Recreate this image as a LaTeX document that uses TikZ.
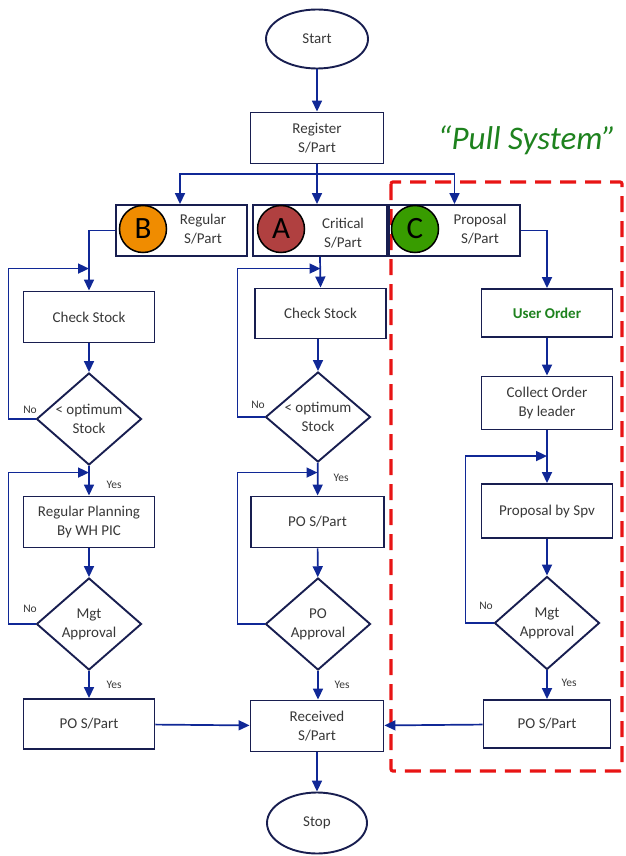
\documentclass[tikz,border=0pt]{standalone}
\usepackage{fontspec}
\setmainfont{Carlito}
\usetikzlibrary{arrows.meta,shapes.geometric}

\definecolor{flowblue}{RGB}{16,40,150}
\definecolor{boxnavy}{RGB}{24,30,80}
\definecolor{pullgreen}{RGB}{30,130,30}
\definecolor{pullred}{RGB}{232,20,20}
\definecolor{circB}{RGB}{240,140,0}
\definecolor{circA}{RGB}{176,64,64}
\definecolor{circC}{RGB}{56,156,0}

\begin{document}
\begin{tikzpicture}[
  x=1pt, y=-1pt,
  every node/.style={font=\fontsize{15}{19}\selectfont, text=black!78},
  box/.style={draw=boxnavy, line width=1.9pt, rectangle, minimum width=131pt, minimum height=51pt, inner sep=0pt, align=center},
  decide/.style={draw=boxnavy, line width=1.9pt, diamond, minimum width=105pt, minimum height=92pt, inner sep=0pt},
  term/.style={draw=boxnavy, line width=1.9pt, ellipse, minimum width=102pt, minimum height=59pt, inner sep=0pt},
  badge/.style={draw=black, line width=1.5pt, circle, minimum size=47pt, inner sep=0pt, font=\fontsize{31}{31}\selectfont, text=black},
  flow/.style={draw=flowblue, line width=1.7pt, -{Triangle[length=11pt,width=10pt]}},
  small/.style={font=\fontsize{11.5}{13}\selectfont, text=black!78}
]
\useasboundingbox (0,0) rectangle (625,856);

% ---------- Pull system frame ----------
\draw[pullred, line width=3.2pt, dash pattern=on 16pt off 9pt, rounded corners=2pt] (391,182) rectangle (622,771);
\node[font=\fontsize{33}{33}\selectfont\itshape, text=pullgreen] (pull) at (527,140) {“Pull System”};

% ---------- Top ----------
\node[term] (start) at (317,39) {Start};
\node[box, minimum width=133pt] (reg) at (317,138) {Register\\S/Part};
\coordinate (split) at (317,174);

% ---------- Category boxes ----------
\node[box] (boxB) at (181.5,230.5) {};
\node[box, minimum width=134pt] (boxA) at (320,230.5) {};
\node[box] (boxC) at (454.5,230.5) {};
\node[badge, fill=circB] (cirB) at (143,229) {B};
\node[badge, fill=circA] (cirA) at (281,229) {A};
\node[badge, fill=circC] (cirC) at (415,229) {C};
\node[align=center] (txtB) at (203,229) {Regular\\S/Part};
\node[align=center] (txtA) at (343,233) {Critical\\S/Part};
\node[align=center] (txtC) at (480,229) {Proposal\\S/Part};

% ---------- Column B (regular) ----------
\node[box] (chkB) at (89,317) {Check Stock};
\node[decide, label={[align=center]center:{< optimum\\Stock}}] (optB) at (89,419) {};
\node[box] (planB) at (89,522) {Regular Planning\\By WH PIC};
\node[decide, label={[align=center]center:{Mgt\\Approval}}] (mgtB) at (89,624) {};
\node[box, minimum height=50pt] (poB) at (89,724) {PO S/Part};

% ---------- Column A (critical) ----------
\node[box, minimum height=50pt] (chkA) at (320.5,313.5) {Check Stock};
\node[decide, minimum height=90pt] (optA) at (318,417) {};
\node[align=center] (optAtxt) at (318,417) {< optimum\\Stock};
\node[box, minimum width=133pt] (poA) at (317.5,522) {PO S/Part};
\node[decide, label={[align=center]center:{PO\\Approval}}] (apprA) at (318,624) {};
\node[box, minimum width=133pt] (recv) at (317,726) {Received\\S/Part};
\node[term, minimum width=100pt, minimum height=61pt] (stop) at (317,823) {Stop};

% ---------- Column C (proposal) ----------
\node[box, minimum height=48pt, font=\fontsize{15}{19}\selectfont\bfseries, text=pullgreen] (userC) at (547,313) {User Order};
\node[box, minimum height=53pt] (collC) at (547,403) {Collect Order\\By leader};
\node[box, minimum height=54pt] (propC) at (547,511) {Proposal by Spv};
\node[decide, minimum height=93pt, label={[align=center]center:{Mgt\\Approval}}] (mgtC) at (547,623) {};
\node[box, minimum width=127pt, minimum height=48pt] (poC) at (547,724) {PO S/Part};

% ---------- Yes / No ----------
\node[small] (noB1) at (30,410) {No};
\node[small] (noB2) at (30,609) {No};
\node[small] (noA1) at (258,405) {No};
\node[small] (noC) at (486,606) {No};
\node[small] (yesB1) at (114,485) {Yes};
\node[small] (yesB2) at (114,685) {Yes};
\node[small] (yesA1) at (341,478) {Yes};
\node[small] (yesA2) at (342,685) {Yes};
\node[small] (yesC) at (569,683) {Yes};

% ---------- Connectors ----------
\draw[flow] (start) -- (reg);
\draw[draw=flowblue, line width=1.7pt] (reg) -- (split);
\draw[flow] (split) -| ([xshift=-1.5pt]boxB.north);
\draw[flow] (split) -- (split |- boxA.north);
\draw[flow] (split) -| (boxC.north);

\draw[flow] (boxB.west) -| (chkB.north);
\draw[flow] (chkB) -- (optB);
\draw[flow] (optB.west) -- ++(-27,0) |- ([yshift=22pt]chkB.north);
\draw[flow] (optB) -- (planB);
\draw[flow] (planB) -- (mgtB);
\draw[flow] (mgtB.west) -- ++(-27,0) |- ([yshift=23pt]planB.north);
\draw[flow] (mgtB) -- (poB);
\draw[flow] (poB) -- (recv);

\draw[flow] (boxA.south) -- (chkA.north);
\draw[flow] (chkA.south -| optA.north) -- (optA.north);
\draw[flow] (optA.west) -- ++(-27,0) |- ([yshift=19pt]chkA.north);
\draw[flow] (optA) -- (poA);
\draw[flow] (apprA.west) -- ++(-27,0) |- ([yshift=23pt]poA.north);
\draw[flow] (poA) -- (apprA);
\draw[flow] (apprA.south) -- (apprA.south |- recv.north);
\draw[flow] (recv) -- (stop);

\draw[flow] (boxC.east) -| (userC.north);
\draw[flow] (userC) -- (collC);
\draw[flow] (collC) -- (propC);
\draw[flow] (mgtC.west) -- ++(-28,0) |- ([yshift=27pt]propC.north);
\draw[flow] (propC) -- (mgtC);
\draw[flow] (mgtC) -- (poC);
\draw[flow] (poC) -- (recv);

\end{tikzpicture}
\end{document}
